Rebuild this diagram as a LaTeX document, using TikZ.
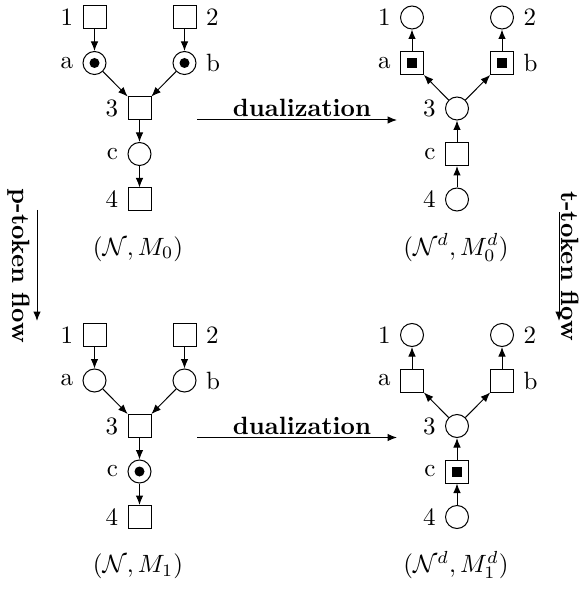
\documentclass[tikz,border=0pt]{standalone}
\usetikzlibrary{arrows.meta}
\begin{document}
\begin{tikzpicture}[x=0.4pt,y=-0.4pt,
 pl/.style={circle,draw,minimum size=9.2pt,inner sep=0pt},
 tr/.style={rectangle,draw,minimum size=9.2pt,inner sep=0pt},
 dottok/.style={path picture={\fill (path picture bounding box.center) circle (2pt);}},
 sqtok/.style={path picture={\fill ([shift={(-2pt,-2pt)}]path picture bounding box.center) rectangle ([shift={(2pt,2pt)}]path picture bounding box.center);}},
 every label/.style={inner sep=0pt},
 label distance=3.6pt,
 arc/.style={-{Latex[length=3.8pt,width=3pt]}},
 flowlbl/.style={font=\bfseries},
]
\useasboundingbox (0,0) rectangle (579,591);

% ---------- top left: (N, M0)
\node[tr,label=left:1] (A1) at (94.5,17.5) {};
\node[tr,label=right:2] (A2) at (184.5,17.5) {};
\node[pl,dottok,label=left:a] (Aa) at (94.5,63) {};
\node[pl,dottok,label=right:b] (Ab) at (184.5,63) {};
\node[tr,label=left:3] (A3) at (139.5,108.5) {};
\node[pl,label=left:c] (Ac) at (139.5,154) {};
\node[tr,label=left:4] (A4) at (139.5,199.5) {};
\draw[arc] (A1) -- (Aa);
\draw[arc] (A2) -- (Ab);
\draw[arc] (Aa) -- (A3);
\draw[arc] (Ab) -- (A3);
\draw[arc] (A3) -- (Ac);
\draw[arc] (Ac) -- (A4);
\node[anchor=base] (Alab) at (138,255) {$(\mathcal{N},M_0)$};

% ---------- top right: (N^d, M0^d)
\node[pl,label=left:1] (B1) at (412,17.5) {};
\node[pl,label=right:2] (B2) at (502,17.5) {};
\node[tr,sqtok,label=left:a] (Ba) at (412,63) {};
\node[tr,sqtok,label=right:b] (Bb) at (502,63) {};
\node[pl,label=left:3] (B3) at (457,108.5) {};
\node[tr,label=left:c] (Bc) at (457,154) {};
\node[pl,label=left:4] (B4) at (457,199.5) {};
\draw[arc] (Ba) -- (B1);
\draw[arc] (Bb) -- (B2);
\draw[arc] (B3) -- (Ba);
\draw[arc] (B3) -- (Bb);
\draw[arc] (Bc) -- (B3);
\draw[arc] (B4) -- (Bc);
\node[anchor=base] (Blab) at (456,255) {$(\mathcal{N}^d,M_0^d)$};

% ---------- bottom left: (N, M1)
\node[tr,label=left:1] (C1) at (94.5,335) {};
\node[tr,label=right:2] (C2) at (184.5,335) {};
\node[pl,label=left:a] (Ca) at (94.5,380.5) {};
\node[pl,label=right:b] (Cb) at (184.5,380.5) {};
\node[tr,label=left:3] (C3) at (139.5,426) {};
\node[pl,dottok,label=left:c] (Cc) at (139.5,471.5) {};
\node[tr,label=left:4] (C4) at (139.5,517) {};
\draw[arc] (C1) -- (Ca);
\draw[arc] (C2) -- (Cb);
\draw[arc] (Ca) -- (C3);
\draw[arc] (Cb) -- (C3);
\draw[arc] (C3) -- (Cc);
\draw[arc] (Cc) -- (C4);
\node[anchor=base] (Clab) at (138,572.5) {$(\mathcal{N},M_1)$};

% ---------- bottom right: (N^d, M1^d)
\node[pl,label=left:1] (D1) at (412,335) {};
\node[pl,label=right:2] (D2) at (502,335) {};
\node[tr,label=left:a] (Da) at (412,380.5) {};
\node[tr,label=right:b] (Db) at (502,380.5) {};
\node[pl,label=left:3] (D3) at (457,426) {};
\node[tr,sqtok,label=left:c] (Dc) at (457,471.5) {};
\node[pl,label=left:4] (D4) at (457,517) {};
\draw[arc] (Da) -- (D1);
\draw[arc] (Db) -- (D2);
\draw[arc] (D3) -- (Da);
\draw[arc] (D3) -- (Db);
\draw[arc] (Dc) -- (D3);
\draw[arc] (D4) -- (Dc);
\node[anchor=base] (Dlab) at (456,572.5) {$(\mathcal{N}^d,M_1^d)$};

% ---------- dualization arrows
\coordinate (du1s) at (197,120);
\coordinate (du1e) at (397,120);
\draw[arc] (du1s) -- (du1e);
\node[flowlbl,anchor=base] (du1) at (302,116.5) {dualization};
\coordinate (du2s) at (197,437.5);
\coordinate (du2e) at (397,437.5);
\draw[arc] (du2s) -- (du2e);
\node[flowlbl,anchor=base] (du2) at (302,434) {dualization};

% ---------- token flow arrows
\coordinate (pfs) at (37,210);
\coordinate (pfe) at (37,321);
\draw[arc] (pfs) -- (pfe);
\node[flowlbl,rotate=-90,inner sep=0pt] (pf) at (19,266) {p-token flow};
\coordinate (tfs) at (559,212);
\coordinate (tfe) at (559,321);
\draw[arc] (tfs) -- (tfe);
\node[flowlbl,rotate=-90,inner sep=0pt] (tf) at (570.5,266) {t-token flow};
\end{tikzpicture}
\end{document}
